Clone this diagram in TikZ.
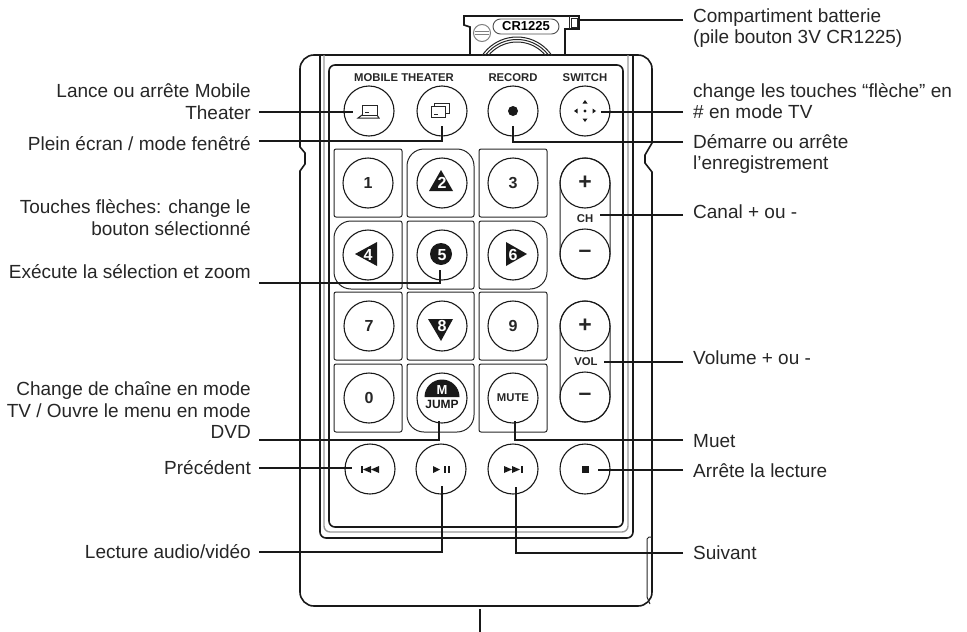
\documentclass[tikz,border=0pt]{standalone}
\usepackage{fontspec}
\setmainfont{Liberation Sans}
\tikzset{
  body/.style={line width=1.6pt, black!90},
  keyline/.style={line width=1pt, black!85},
  btn/.style={circle, draw=black!90, line width=1.1pt, minimum size=50pt, inner sep=0pt, font=\fontsize{16}{16}\selectfont\bfseries, text=black!85},
  leader/.style={line width=1.9pt, black!90},
  lbl/.style={font=\fontsize{19}{21.5}\selectfont, text=black!85},
  lblleft/.style={lbl, anchor=east, align=right, inner xsep=8pt, inner ysep=0pt},
  lblright/.style={lbl, anchor=west, align=left, inner xsep=10pt, inner ysep=0pt},
  tag/.style={font=\fontsize{11.3}{12}\selectfont\bfseries, text=black!85, inner sep=0pt},
  icon/.style={fill=black!90, draw=none}
}
\begin{document}
\begin{tikzpicture}[x=1pt, y=-1pt]
  \useasboundingbox (0,0) rectangle (967,632);

  \draw[body] (300,147) [rounded corners=14pt] -- (300,55) -- (652,55) [sharp corners] -- (652,143) -- (645,155) -- (645,163) -- (652,172) [rounded corners=14pt] -- (652,606) -- (300,606) [sharp corners] -- (300,171) -- (305,164) -- (305,153) -- cycle;
  \draw[keyline] (652,537) -- (649,537) -- (647,539) -- (647,597) -- (650,604);
  \draw[body, rounded corners=6pt] (320,55) -- (320,538) -- (633,538) -- (633,55);
  \draw[line width=1.4pt, black!40, rounded corners=6pt] (324,55) -- (324,532) -- (628,532) -- (628,55);
  \draw[body, rounded corners=6pt] (329,65) rectangle (623,527);

  \draw[body] (470,55) -- (470,27) -- (464,25) -- (464,16) -- (579,16) -- (579,29) -- (565,29) -- (565,55);
  \draw[keyline] (569,16) -- (569,29);
  \draw[keyline] (571,18) rectangle (577,27);
  \begin{scope}
    \clip (460,20) rectangle (575,55);
    \draw[keyline] (517,79) circle [radius=42];
    \draw[keyline] (517,79) circle [radius=39.5];
    \draw[keyline] (517,79) circle [radius=37];
  \end{scope}
  \draw[line width=1pt, black!50] (482,33) circle [radius=8.5];
  \draw[line width=1pt, black!50] (475,31.5) -- (489,31.5) (475,34.5) -- (489,34.5);
  \node[draw=black!70, line width=0.9pt, rounded corners=7.5pt, minimum width=66pt, minimum height=15pt, inner sep=0pt, font=\fontsize{13}{13}\selectfont\bfseries] (pill) at (526,26.5) {CR1225};

  \draw[keyline, rounded corners=2pt] (334,149) rectangle (402,217);
  \draw[keyline, rounded corners=2pt] (479,149) rectangle (547,217);
  \draw[keyline, rounded corners=2pt] (407,221) rectangle (474,289);
  \draw[keyline, rounded corners=2pt] (334,292) rectangle (402,360);
  \draw[keyline, rounded corners=2pt] (407,292) rectangle (474,360);
  \draw[keyline, rounded corners=2pt] (479,292) rectangle (547,360);
  \draw[keyline, rounded corners=2pt] (334,364) rectangle (402,432);
  \draw[keyline, rounded corners=2pt] (479,364) rectangle (547,432);
  \draw[keyline, rounded corners=2pt] (440,217) -- (407,217) -- (407,183) [rounded corners=17pt] -- (407,149) -- (474,149) -- (474,183) [rounded corners=2pt] -- (474,217) -- cycle;
  \draw[keyline, rounded corners=2pt] (402,255) -- (402,221) [rounded corners=17pt] -- (334,221) -- (334,289) -- (368,289) [rounded corners=2pt] -- (402,289) -- cycle;
  \draw[keyline, rounded corners=2pt] (479,255) -- (479,221) [rounded corners=17pt] -- (547,221) -- (547,289) -- (513,289) [rounded corners=2pt] -- (479,289) -- cycle;
  \draw[keyline, rounded corners=2pt] (440,364) -- (474,364) -- (474,398) [rounded corners=17pt] -- (474,432) -- (407,432) -- (407,398) [rounded corners=2pt] -- (407,364) -- cycle;
  \draw[keyline, rounded corners=25pt] (560,158) rectangle (610,279);
  \draw[keyline, rounded corners=25pt] (560,301) rectangle (610,422);

  \fill[icon] (441,170) -- (429,191) -- (453,191) -- cycle;
  \fill[icon] (355,254) -- (377,242) -- (377,266) -- cycle;
  \fill[icon] (441,254) circle [radius=11];
  \fill[icon] (527,254) -- (506,242) -- (506,266) -- cycle;
  \fill[icon] (428,319) -- (453,319) -- (441,341) -- cycle;
  \fill[icon] (424.5,397) arc [start angle=180, end angle=360, radius=17.5] -- cycle;

  \node[btn] (bmobile) at (369,111) {};
  \node[btn] (btheater) at (442,111) {};
  \node[btn] (brecord) at (513,111) {};
  \node[btn] (bswitch) at (585,111) {};
  \node[btn] (k1) at (368,183) {1};
  \node[btn, text=white] (k2) at (442,183) {2};
  \node[btn] (k3) at (513,183) {3};
  \node[btn, text=white] (k4) at (368,255) {4};
  \node[btn, text=white] (k5) at (442,255) {5};
  \node[btn, text=white] (k6) at (513,255) {6};
  \node[btn] (k7) at (369,326) {7};
  \node[btn, text=white] (k8) at (442,326) {8};
  \node[btn] (k9) at (513,326) {9};
  \node[btn] (k0) at (369,398) {0};
  \node[btn] (kjump) at (442,398) {};
  \node[btn, font=\fontsize{11.3}{12}\selectfont\bfseries] (kmute) at (513,398) {MUTE};
  \node[btn, font=\fontsize{23}{23}\selectfont\bfseries] (chplus) at (585,183) {+};
  \node[btn, font=\fontsize{23}{23}\selectfont\bfseries] (chminus) at (585,254) {–};
  \node[btn, font=\fontsize{23}{23}\selectfont\bfseries] (volplus) at (585,326) {+};
  \node[btn, font=\fontsize{23}{23}\selectfont\bfseries] (volminus) at (585,397) {–};
  \node[btn] (bprev) at (370,469) {};
  \node[btn] (bplay) at (441,469) {};
  \node[btn] (bnext) at (513,469) {};
  \node[btn] (bstop) at (585,469) {};

  \node[tag] (tagmobile) at (404,78) {MOBILE THEATER};
  \node[tag] (tagrecord) at (513,78) {RECORD};
  \node[tag] (tagswitch) at (585,78) {SWITCH};
  \node[tag] (tagch) at (585,219) {CH};
  \node[tag] (tagvol) at (586,362) {VOL};
  \node[tag, text=white, font=\fontsize{13}{13}\selectfont\bfseries] (tagm) at (442,390) {M};
  \node[tag, text=black!90, font=\fontsize{12}{12}\selectfont\bfseries] (tagjump) at (442,404.5) {JUMP};

  \draw[keyline] (362,105) rectangle (377,115);
  \draw[keyline] (365,112.5) -- (369,112.5);
  \draw[keyline] (362,115) -- (358,118) -- (379,118) -- (377,115);
  \draw[keyline] (434,103) rectangle (449,113);
  \draw[keyline, fill=white] (431,106) rectangle (445,117);
  \draw[keyline] (434,114) -- (438,114);
  \fill[icon] (513,111) circle [radius=5];
  \fill[icon] (585,111) circle [radius=1.7];
  \fill[icon] (585,100) -- (582.5,103.5) -- (587.5,103.5) -- cycle;
  \fill[icon] (585,122) -- (582.5,118.5) -- (587.5,118.5) -- cycle;
  \fill[icon] (574,111) -- (577.5,108.5) -- (577.5,113.5) -- cycle;
  \fill[icon] (596,111) -- (592.5,108.5) -- (592.5,113.5) -- cycle;
  \fill[icon] (361,466) rectangle (362.5,473);
  \fill[icon] (363,469.5) -- (371,466) -- (371,473) -- cycle;
  \fill[icon] (371,469.5) -- (379,466) -- (379,473) -- cycle;
  \fill[icon] (433,466) -- (440,469.5) -- (433,473) -- cycle;
  \fill[icon] (444,466) rectangle (445.5,473);
  \fill[icon] (448,466) rectangle (449.5,473);
  \fill[icon] (504,466) -- (512,469.5) -- (504,473) -- cycle;
  \fill[icon] (512,466) -- (520,469.5) -- (512,473) -- cycle;
  \fill[icon] (521,466) rectangle (522.5,473);
  \fill[icon] (582,466) rectangle (589,473);

  \node[lblleft] (tmobile) at (259,101.5) {Lance ou arrête Mobile\\Theater};
  \node[lblleft] (ttheater) at (259,144) {Plein écran / mode fenêtré};
  \node[lblleft] (tarrows) at (259,217.5) {Touches flèches: change le\\bouton sélectionné};
  \node[lblleft] (tselect) at (259,272) {Exécute la sélection et zoom};
  \node[lblleft] (tjump) at (259,410.5) {Change de chaîne en mode\\TV / Ouvre le menu en mode\\DVD};
  \node[lblleft] (tprev) at (259,468) {Précédent};
  \node[lblleft] (tplay) at (259,552) {Lecture audio/vidéo};
  \node[lblright] (tbatt) at (683,28) {Compartiment batterie\\(pile bouton 3V CR1225)};
  \node[lblright] (tswitch) at (683,101) {change les touches “flèche” en\\\# en mode TV};
  \node[lblright] (trecord) at (683,154) {Démarre ou arrête\\l’enregistrement};
  \node[lblright] (tch) at (683,212) {Canal + ou -};
  \node[lblright] (tvol) at (683,358) {Volume + ou -};
  \node[lblright] (tmute) at (683,441) {Muet};
  \node[lblright] (tstop) at (683,471) {Arrête la lecture};
  \node[lblright] (tnext) at (683,553) {Suivant};

  \coordinate (ebatt) at (579,20);
  \coordinate (emobile) at (353,112);
  \coordinate (etheater) at (442,126);
  \coordinate (erecord) at (513,126);
  \coordinate (eswitch) at (601,112);
  \coordinate (ech) at (600,215);
  \coordinate (eselect) at (440,270);
  \coordinate (evol) at (604,362);
  \coordinate (ejump) at (439,421);
  \coordinate (emute) at (515,421);
  \coordinate (eprev) at (352,468);
  \coordinate (estop) at (598,470);
  \coordinate (eplay) at (442,486);
  \coordinate (enext) at (516,487);
  \coordinate (ebottom) at (480,609);
  \coordinate (fbottom) at (480,632);

  \draw[leader] (tbatt.west |- ebatt) -- (ebatt);
  \draw[leader] (tmobile.east |- emobile) -- (emobile);
  \draw[leader] (ttheater.east |- 0,141) -| (etheater);
  \draw[leader] (trecord.west |- 0,142) -| (erecord);
  \draw[leader] (tswitch.west |- eswitch) -- (eswitch);
  \draw[leader] (tch.west |- ech) -- (ech);
  \draw[leader] (tselect.east |- 0,283) -| (eselect);
  \draw[leader] (tvol.west |- evol) -- (evol);
  \draw[leader] (tjump.east |- 0,440) -| (ejump);
  \draw[leader] (tmute.west |- 0,440) -| (emute);
  \draw[leader] (tprev.east |- eprev) -- (eprev);
  \draw[leader] (tstop.west |- estop) -- (estop);
  \draw[leader] (tplay.east |- 0,552) -| (eplay);
  \draw[leader] (tnext.west |- 0,553) -| (enext);
  \draw[leader] (ebottom) -- (fbottom);
\end{tikzpicture}
\end{document}
